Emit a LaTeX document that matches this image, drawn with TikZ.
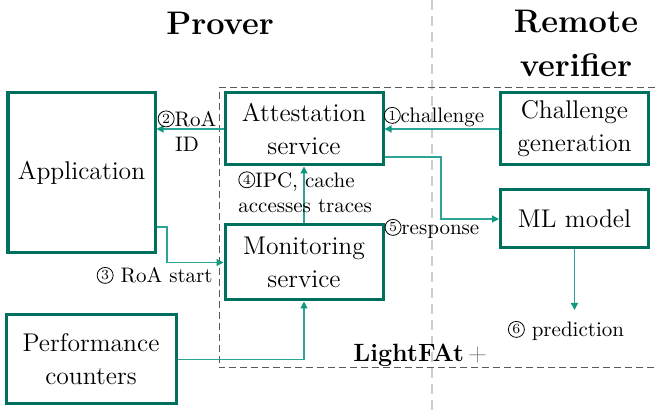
\documentclass[tikz,border=0pt]{standalone}
\usetikzlibrary{arrows.meta,calc}
\definecolor{boxteal}{HTML}{00705E}
\definecolor{lineteal}{HTML}{2BA595}
\definecolor{tipteal}{HTML}{10977F}
% circled step number: a serif digit inside a thin ring, sitting on the baseline
\newcommand{\cnum}[1]{\tikz[baseline={([yshift=0.4pt]cn.south)}]
  \node[circle, draw, line width=0.4pt, inner sep=0pt, minimum size=8pt,
        font=\fontsize{7}{7}\selectfont] (cn) {#1};}

\begin{document}
\begin{tikzpicture}[x=0.5pt,y=-0.5pt,
  blk/.style={draw=boxteal, line width=1.5pt, align=center, inner sep=0pt,
    font=\fontsize{12.8}{16.5}\selectfont},
  arr/.style={draw=lineteal, line width=0.65pt,
    -{Triangle[length=3.5pt,width=3.5pt,color=tipteal]}},
  lbl/.style={font=\fontsize{10.5}{12.5}\selectfont, inner sep=0pt},
  ttl/.style={font=\fontsize{16.3}{22}\bfseries\selectfont, align=center, inner sep=0pt},
  divider/.style={draw=black!20, line width=0.8pt, dash pattern=on 5pt off 3pt},
  frame/.style={draw=black!65, line width=0.5pt, dash pattern=on 3.5pt off 2pt}]

\useasboundingbox (0,0) rectangle (655,410);

% column split and the LightFAt boundary
\draw[divider] (432,0) -- (432,410);
\draw[frame] (655,88) -- (219,88) -- (219,368) -- (655,368);

% headings
\node[ttl, anchor=base] (prover) at (220,35) {Prover};
\node[ttl] (remote) at (576,43) {Remote\\verifier};
\node[anchor=base west, inner sep=0pt, font=\fontsize{12.5}{15}\bfseries\selectfont]
  (lightfat) at (353,362) {LightFAt\,\textcolor{black!45}{\mdseries +}};

% blocks
\node[blk, minimum width=73.5pt, minimum height=80pt] (app) at (81.5,173) {Application};
\node[blk, minimum width=79pt, minimum height=36pt] (att) at (304,129) {Attestation\\service};
\node[blk, minimum width=79pt, minimum height=37.5pt] (mon) at (304,262.5) {Monitoring\\service};
\node[blk, minimum width=74pt, minimum height=36pt] (chal) at (574.5,129) {Challenge\\generation};
\node[blk, minimum width=74pt, minimum height=29pt] (ml) at (574.5,219) {ML model};
\node[blk, minimum width=85pt, minimum height=44.5pt] (perf) at (91,359.5) {Performance\\counters};

% connectors
\draw[arr] (chal.west) -- (chal.west -| att.east);
\draw[arr] (att.west) -- (att.west -| app.east);
\draw[arr] ([yshift=-14pt]att.east) -| ([xshift=-29pt]ml.west) -- (ml.west);
\draw[arr] ([yshift=-27pt]app.east) -| ([xshift=-28.25pt]mon.west) -- (mon.west);
\draw[arr] (mon.north) -- (att.south);
\draw[arr] (perf.east) -| (mon.south);
\coordinate (predtip) at (574.5,310);
\draw[arr] (ml.south) -- (predtip);

% connector labels
\node[lbl, align=center] (l2) at (187,131) {\cnum{2}RoA\\ID};
\node[lbl, anchor=base] (l1) at (434,123) {\cnum{1}challenge};
\node[lbl, align=left, anchor=north west] (l4) at (238,171) {\cnum{4}IPC, cache\\accesses traces};
\node[lbl, anchor=base] (l5) at (432,235) {\cnum{5}response};
\node[lbl, anchor=base east] (l3) at (213,283) {\cnum{3} RoA start};
\node[lbl, anchor=base] (l6) at (566,337) {\cnum{6} prediction};
\end{tikzpicture}
\end{document}
